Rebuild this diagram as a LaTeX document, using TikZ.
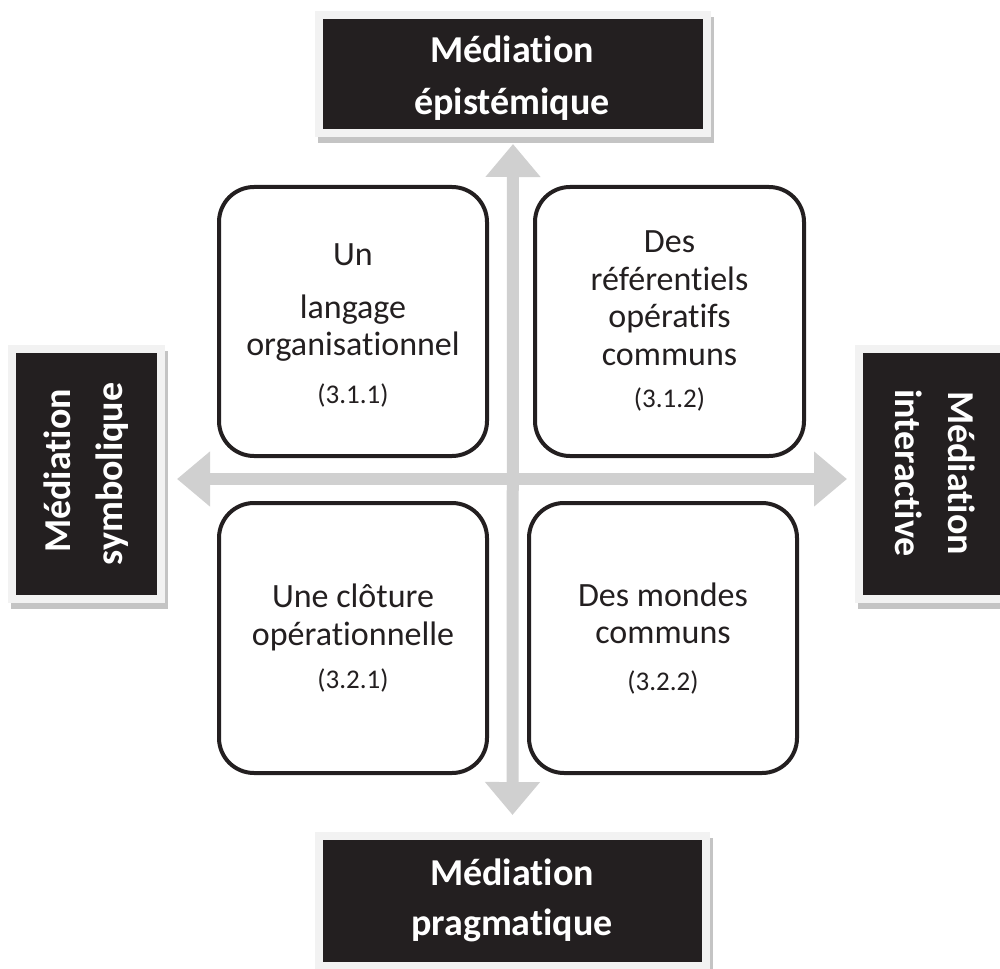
\documentclass[tikz,border=0pt]{standalone}
\usepackage{fontspec}
\setmainfont{Carlito}[Ligatures={NoCommon,NoRare,NoContextual},RawFeature={-liga;-dlig;-clig;-rlig;-calt}]
\usetikzlibrary{arrows.meta}
\definecolor{boxblack}{HTML}{231F20}
\definecolor{boxlight}{HTML}{F2F2F2}
\definecolor{shadowgray}{HTML}{C4C4C4}
\definecolor{arrowgray}{HTML}{D0D0D0}
\newcommand\tisep{\kern0pt}
\begin{document}
\begin{tikzpicture}[x=1pt,y=-1pt,
  labelbox/.style={rectangle, fill=boxblack, draw=boxlight, line width=8pt, inner sep=0pt,
    preaction={fill=shadowgray, draw=shadowgray, line width=8pt, transform canvas={xshift=3pt,yshift=-6pt}}},
  roundbox/.style={rectangle, rounded corners=35pt, draw=boxblack, line width=4pt, fill=white, inner sep=0pt},
  bigarrow/.style={line width=12pt, draw=arrowgray, {Triangle[length=33pt,width=53pt]}-{Triangle[length=33pt,width=53pt]}},
  ln/.style={anchor=base, inner sep=0pt, font=\fontsize{34}{40}\selectfont, text=boxblack},
  num/.style={anchor=base, inner sep=0pt, font=\fontsize{27}{32}\selectfont, text=boxblack},
  lab/.style={anchor=base, inner sep=0pt, font=\fontsize{38}{46}\selectfont\bfseries, text=white},
]
\useasboundingbox (0,0) rectangle (1000,968);
\clip (0,0) rectangle (1000,968);

% label boxes
\node[labelbox, minimum width=388pt, minimum height=118pt] (epi) at (513,74) {};
\node[labelbox, minimum width=149pt, minimum height=250pt] (sym) at (86.5,474) {};
\node[labelbox, minimum width=149pt, minimum height=250pt] (int) at (933.5,474) {};
\node[labelbox, minimum width=387pt, minimum height=130pt] (pra) at (512.5,901) {};

\node[lab] (epi1) at (512,63) {Médiat\tisep ion};
\node[lab] (epi2) at (512,115) {épistémique};
\node[lab] (pra1) at (512,885) {Médiat\tisep ion};
\node[lab] (pra2) at (512,935) {pragmat\tisep ique};
\node[lab, rotate=90] (sym1) at (70,471) {Médiat\tisep ion};
\node[lab, rotate=90] (sym2) at (122,474) {symbolique};
\node[lab, rotate=-90] (int1) at (948,473) {Médiat\tisep ion};
\node[lab, rotate=-90] (int2) at (895,473) {interact\tisep ive};

% arrows
\draw[bigarrow] ([yshift=-7pt]epi.south) -- ([yshift=17pt]pra.north);
\draw[bigarrow] ([xshift=12pt,yshift=-5pt]sym.east) -- ([xshift=-8pt,yshift=-5pt]int.west);

% rounded boxes
\node[roundbox, minimum width=268pt, minimum height=269pt] (q11) at (353,321.5) {};
\node[roundbox, minimum width=269pt, minimum height=269pt] (q12) at (669.5,321.5) {};
\node[roundbox, minimum width=268pt, minimum height=270pt] (q21) at (353,638) {};
\node[roundbox, minimum width=268pt, minimum height=270pt] (q22) at (663,638) {};

\node[ln] (q11a) at (353,265) {Un};
\node[ln] (q11b) at (353,318) {langage};
\node[ln] (q11c) at (353,355) {organisat\tisep ionnel};
\node[num] (q11d) at (353,403) {(3.1.1)};

\node[ln] (q12a) at (669.5,252) {Des};
\node[ln] (q12b) at (669.5,290) {référent\tisep iels};
\node[ln] (q12c) at (669.5,327) {opérat\tisep ifs};
\node[ln] (q12d) at (669.5,365) {communs};
\node[num] (q12e) at (669.5,407) {(3.1.2)};

\node[ln] (q21a) at (353,607) {Une clôture};
\node[ln] (q21b) at (353,645) {opérat\tisep ionnelle};
\node[num] (q21c) at (353,688) {(3.2.1)};

\node[ln] (q22a) at (663,606) {Des mondes};
\node[ln] (q22b) at (663,643) {communs};
\node[num] (q22c) at (663,690) {(3.2.2)};
\end{tikzpicture}
\end{document}
